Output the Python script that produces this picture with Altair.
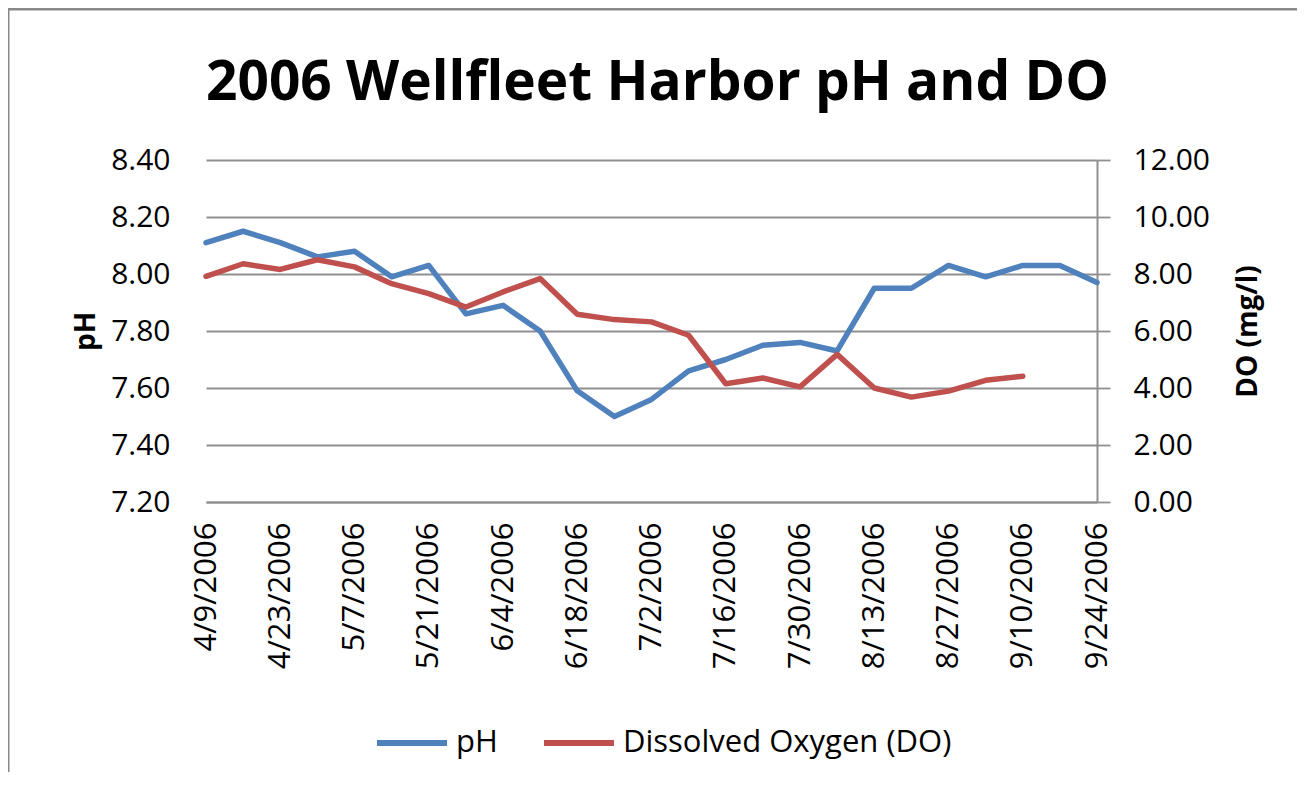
import altair as alt
import pandas as pd

dates = [
    "2006-04-09", "2006-04-16", "2006-04-23", "2006-04-30", "2006-05-07",
    "2006-05-14", "2006-05-21", "2006-05-28", "2006-06-04", "2006-06-11",
    "2006-06-18", "2006-06-25", "2006-07-02", "2006-07-09", "2006-07-16",
    "2006-07-23", "2006-07-30", "2006-08-06", "2006-08-13", "2006-08-20",
    "2006-08-27", "2006-09-03", "2006-09-10", "2006-09-17", "2006-09-24",
]
ph = [8.11, 8.15, 8.11, 8.06, 8.08, 7.99, 8.03, 7.86, 7.89, 7.80,
      7.59, 7.50, 7.56, 7.66, 7.70, 7.75, 7.76, 7.73, 7.95, 7.95,
      8.03, 7.99, 8.03, 8.03, 7.97]
do = [7.92, 8.36, 8.16, 8.50, 8.25, 7.66, 7.31, 6.84, 7.37, 7.84,
      6.59, 6.40, 6.32, 5.85, 4.15, 4.35, 4.04, 5.18, 4.00, 3.68,
      3.89, 4.27, 4.41, None, None]

tick_dates = [(2006, 4, 9), (2006, 4, 23), (2006, 5, 7), (2006, 5, 21), (2006, 6, 4),
              (2006, 6, 18), (2006, 7, 2), (2006, 7, 16), (2006, 7, 30), (2006, 8, 13),
              (2006, 8, 27), (2006, 9, 10), (2006, 9, 24)]
ph_ticks = [7.2, 7.4, 7.6, 7.8, 8.0, 8.2, 8.4]
do_ticks = [0, 2, 4, 6, 8, 10, 12]
series_names = ["pH", "Dissolved Oxygen (DO)"]
series_colors = ["#4F81BD", "#C0504D"]

ph_df = pd.DataFrame({"date": dates, "value": ph, "series": series_names[0]})
do_df = pd.DataFrame({"date": dates, "value": do, "series": series_names[1]}).dropna()

FONT = "Open Sans"
GRID = "#8f8f8f"


def dt(t):
    return alt.DateTime(year=t[0], month=t[1], date=t[2], utc=True)


x_enc = alt.X(
    "date:T",
    scale=alt.Scale(type="utc", domain=[dt(tick_dates[0]), dt(tick_dates[-1])], nice=False),
    axis=alt.Axis(
        values=[dt(t) for t in tick_dates],
        format="%-m/%-d/%Y",
        labelAngle=270,
        labelFontSize=31,
        labelFont=FONT,
        labelColor="#000000",
        labelPadding=20,
        grid=False,
        ticks=False,
        domain=True,
        domainColor=GRID,
        domainWidth=2,
        title=None,
        labelOverlap=False,
    ),
)

color_enc = alt.Color(
    "series:N",
    scale=alt.Scale(domain=series_names, range=series_colors),
    legend=alt.Legend(
        title=None,
        orient="none",
        legendX=168,
        legendY=545,
        direction="horizontal",
        symbolType="stroke",
        symbolSize=4900,
        symbolStrokeWidth=6,
        labelFontSize=31,
        labelFont=FONT,
        labelColor="#000000",
        labelOffset=6,
        labelLimit=1000,
        columnPadding=34,
    ),
    sort=series_names,
)

ph_line = alt.Chart(ph_df).mark_line(strokeWidth=5.5, strokeCap="round", strokeJoin="round").encode(
    x=x_enc,
    y=alt.Y(
        "value:Q",
        scale=alt.Scale(domain=[7.2, 8.4], nice=False, zero=False),
        axis=alt.Axis(
            orient="left",
            values=ph_ticks,
            format=".2f",
            title="pH",
            titleFont=FONT,
            titleFontSize=28,
            titleFontWeight="bold",
            titleColor="#000000",
            titlePadding=10,
            labelFont=FONT,
            labelFontSize=30,
            labelColor="#000000",
            labelPadding=36,
            ticks=False,
            domain=False,
            grid=True,
            gridColor=GRID,
            gridWidth=1.8,
        ),
    ),
    color=color_enc,
)

do_line = alt.Chart(do_df).mark_line(strokeWidth=5.5, strokeCap="round", strokeJoin="round").encode(
    x=x_enc,
    y=alt.Y(
        "value:Q",
        scale=alt.Scale(domain=[0, 12], nice=False),
        axis=alt.Axis(
            orient="right",
            values=do_ticks,
            format=".2f",
            title="DO (mg/l)",
            titleAngle=270,
            titleFont=FONT,
            titleFontSize=28,
            titleFontWeight="bold",
            titleColor="#000000",
            titlePadding=53,
            labelFont=FONT,
            labelFontSize=30,
            labelColor="#000000",
            labelPadding=23,
            ticks=True,
            tickSize=13,
            tickColor=GRID,
            tickWidth=1.8,
            domain=True,
            domainColor=GRID,
            domainWidth=2,
            grid=False,
        ),
    ),
    color=color_enc,
)

frame = alt.Data(values=[{}])
border_top = alt.Chart(frame).mark_rule(color="#888888", strokeWidth=3).encode(
    x=alt.value(-200), x2=alt.value(1200), y=alt.value(-151)
)
border_left = alt.Chart(frame).mark_rule(color="#888888", strokeWidth=3).encode(
    x=alt.value(-198), y=alt.value(-151), y2=alt.value(700)
)

chart = (
    alt.layer(ph_line, do_line, border_top, border_left)
    .resolve_scale(y="independent")
    .properties(
        width=891,
        height=342,
        padding={"left": 198, "top": 152, "right": 200, "bottom": 270},
        autosize=alt.AutoSizeParams(type="none"),
        title=alt.TitleParams(
            "2006 Wellfleet Harbor pH and DO",
            font=FONT,
            fontSize=55,
            fontWeight="bold",
            color="#000000",
            anchor="middle",
            frame="group",
            baseline="alphabetic",
            offset=0,
            dy=147.5,
            dx=6,
        ),
    )
    .configure_view(stroke=None)
)

chart.save("out.html", embed_options={"renderer": "svg", "actions": False})
